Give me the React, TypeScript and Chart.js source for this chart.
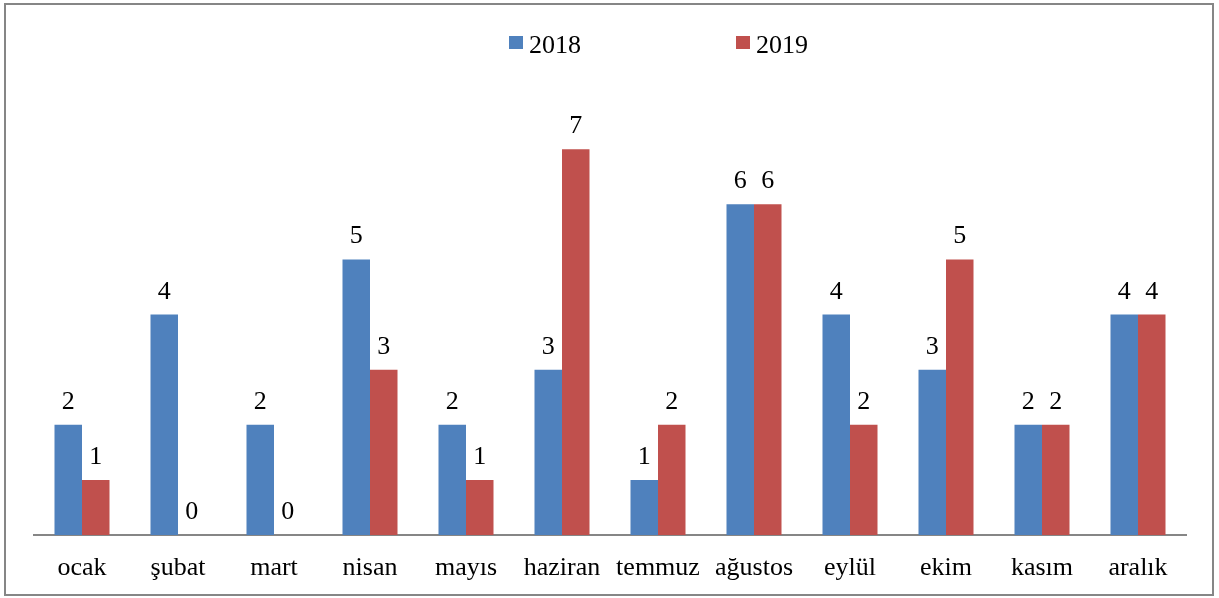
import React, { useEffect, useRef } from "react";
import { Chart, registerables } from "chart.js";

Chart.register(...registerables);

const months = ["ocak", "şubat", "mart", "nisan", "mayıs", "haziran", "temmuz", "ağustos", "eylül", "ekim", "kasım", "aralık"];
const values2018 = [2, 4, 2, 5, 2, 3, 1, 6, 4, 3, 2, 4];
const values2019 = [1, 0, 0, 3, 1, 7, 2, 6, 2, 5, 2, 4];
const seriesNames = ["2018", "2019"];
const seriesColors = ["#4F81BD", "#C0504D"];

const FONT = "'Liberation Serif', 'Times New Roman', Times, serif";

const framePlugin = {
  id: "frame",
  beforeDraw(chart: any) {
    const ctx = chart.ctx;
    ctx.save();
    ctx.fillStyle = "#ffffff";
    ctx.fillRect(0, 0, chart.width, chart.height);
    ctx.strokeStyle = "#868686";
    ctx.lineWidth = 2;
    ctx.strokeRect(5, 4, 1208, 591);
    ctx.restore();
  },
};

const legendPlugin = {
  id: "customLegend",
  afterDraw(chart: any) {
    const ctx = chart.ctx;
    ctx.save();
    ctx.font = `26px ${FONT}`;
    ctx.textBaseline = "alphabetic";
    ctx.textAlign = "left";
    const xs = [509, 736];
    chart.data.datasets.forEach((ds: any, i: number) => {
      ctx.fillStyle = ds.backgroundColor;
      ctx.fillRect(xs[i], 36, 14, 13);
      ctx.fillStyle = "#000000";
      ctx.fillText(ds.label, xs[i] + 20, 53);
    });
    ctx.restore();
  },
};

const valueLabelPlugin = {
  id: "valueLabels",
  afterDatasetsDraw(chart: any) {
    const ctx = chart.ctx;
    ctx.save();
    ctx.font = `26px ${FONT}`;
    ctx.fillStyle = "#000000";
    ctx.textAlign = "center";
    ctx.textBaseline = "alphabetic";
    chart.data.datasets.forEach((ds: any, di: number) => {
      const meta = chart.getDatasetMeta(di);
      meta.data.forEach((bar: any, i: number) => {
        ctx.fillText(String(ds.data[i]), bar.x, bar.y - 16);
      });
    });
    ctx.restore();
  },
};

export default function App() {
  const ref = useRef<HTMLCanvasElement | null>(null);
  useEffect(() => {
    let chart: any = null;
    let cancelled = false;
    const build = () => {
      if (cancelled || !ref.current) return;
      chart = new Chart(ref.current, {
        type: "bar",
        data: {
          labels: months,
          datasets: [
            { label: seriesNames[0], data: values2018, backgroundColor: seriesColors[0], borderWidth: 0 },
            { label: seriesNames[1], data: values2019, backgroundColor: seriesColors[1], borderWidth: 0 },
          ],
        },
        options: {
          animation: false,
          responsive: false,
          maintainAspectRatio: false,
          devicePixelRatio: 1,
          layout: { padding: { top: 94, left: 34, right: 33, bottom: 0 } },
          plugins: { legend: { display: false }, tooltip: { enabled: false } },
          datasets: { bar: { categoryPercentage: 0.573, barPercentage: 1 } },
          scales: {
            x: {
              grid: { display: false, drawTicks: false },
              border: { display: true, color: "#868686", width: 2 },
              ticks: { font: { family: FONT, size: 26 }, color: "#000000", padding: 18, maxRotation: 0, autoSkip: false },
              afterFit: (scale: any) => { scale.height = 63; },
            },
            y: { display: false, min: 0, max: 8 },
          },
        },
        plugins: [framePlugin, valueLabelPlugin, legendPlugin],
      });
    };
    const fonts: any = (document as any).fonts;
    if (fonts && fonts.load) {
      Promise.all([fonts.load('26px "Liberation Serif"'), fonts.load('26px "Liberation Serif"', "şğı")])
        .catch(() => null)
        .then(() => build());
    } else {
      build();
    }
    return () => {
      cancelled = true;
      if (chart) chart.destroy();
    };
  }, []);
  return (
    <div style={{ position: "fixed", left: 0, top: 0, width: 1219, height: 598 }}>
      <span style={{ fontFamily: "'Liberation Serif'", position: "absolute", visibility: "hidden" }}>ocak 2018</span>
      <canvas ref={ref} width={1219} height={598} style={{ display: "block", width: 1219, height: 598 }} />
    </div>
  );
}
